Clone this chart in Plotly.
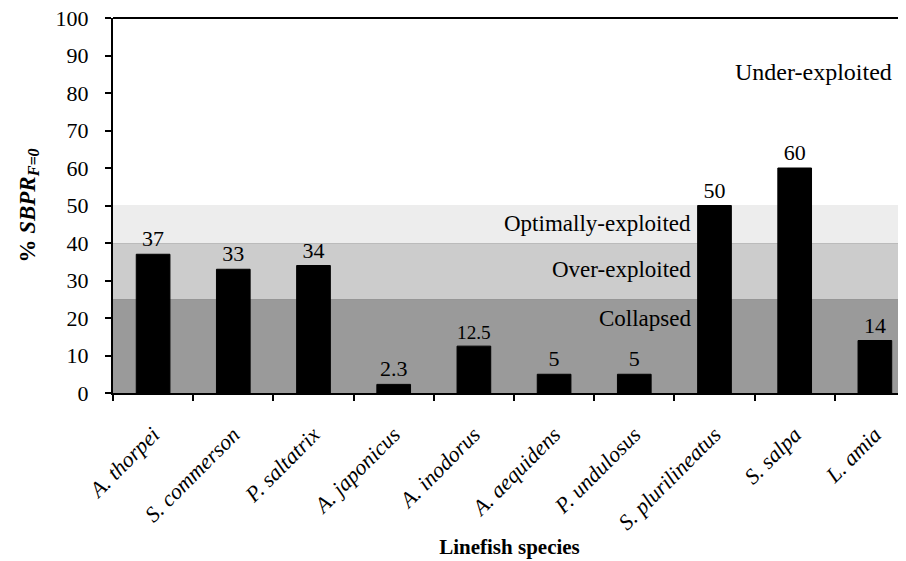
import plotly.graph_objects as go

species = ["A. thorpei", "S. commerson", "P. saltatrix", "A. japonicus", "A. inodorus",
           "A. aequidens", "P. undulosus", "S. plurilineatus", "S. salpa", "L. amia"]
sbpr = [37, 33, 34, 2.3, 12.5, 5, 5, 50, 60, 14]

band_edges = [0, 25, 40, 50]
band_colors = ["#9a9a9a", "#cccccc", "#ededed"]
band_lines = ["#777777", "#aaaaaa", "#ededed"]
band_labels = ["Collapsed", "Over-exploited", "Optimally-exploited"]
band_label_y = [20, 33, 45.3]
top_label = "Under-exploited"
top_label_y = 85.6

FONT = "Liberation Serif"

fig = go.Figure()
fig.add_trace(go.Bar(
    x=species, y=sbpr,
    marker=dict(color="black", line=dict(color="black", width=1)),
    width=0.42,
    text=[str(v) for v in sbpr],
    textposition="outside",
    textfont=dict(family=FONT, size=22, color="black"),
    cliponaxis=False,
))

shapes = []
for i, c in enumerate(band_colors):
    shapes.append(dict(type="rect", xref="paper", yref="y", x0=0, x1=1,
                       y0=band_edges[i], y1=band_edges[i + 1],
                       fillcolor=c, line=dict(width=0), layer="below"))
    shapes.append(dict(type="line", xref="paper", yref="y", x0=0, x1=1,
                       y0=band_edges[i + 1], y1=band_edges[i + 1],
                       line=dict(color=band_lines[i], width=1), layer="below"))
# top border line
shapes.append(dict(type="line", xref="paper", yref="paper", x0=0, x1=1, y0=1, y1=1,
                   line=dict(color="black", width=2), layer="above"))

annotations = []
for lab, yv in zip(band_labels, band_label_y):
    annotations.append(dict(text=lab, xref="paper", yref="y", x=0.7314, y=yv,
                            xanchor="right", yanchor="middle", showarrow=False,
                            font=dict(family=FONT, size=23, color="black")))
annotations.append(dict(text=top_label, xref="paper", yref="y", x=0.985, y=top_label_y,
                        xanchor="right", yanchor="middle", showarrow=False,
                        font=dict(family=FONT, size=24, color="black")))

# page body has an 8px default margin; compensate so the plot lands where the reference has it
fig.update_layout(
    width=898, height=553,
    margin=dict(l=105, r=0, t=10, b=168, autoexpand=False),
    plot_bgcolor="white", paper_bgcolor="white",
    showlegend=False,
    shapes=shapes,
    annotations=annotations,
    font=dict(family=FONT, size=21, color="black"),
)
fig.update_xaxes(
    range=[-0.5, 9.388],
    showline=True, linecolor="black", linewidth=2,
    ticks="outside", tickson="boundaries", ticklen=6, tickwidth=2, tickcolor="black",
    tickangle=-45, ticklabelstandoff=18, ticklabeloverflow="allow",
    tickfont=dict(family=FONT, size=22, color="black", style="italic"),
    showgrid=False, automargin=False,
    title=dict(text="<b>Linefish species</b>", font=dict(family=FONT, size=21, color="black"),
               standoff=6),
)
fig.update_yaxes(
    range=[0, 100], dtick=10,
    showline=True, linecolor="black", linewidth=2,
    ticks="outside", ticklen=6, tickwidth=2, tickcolor="black",
    ticklabelstandoff=12, ticklabeloverflow="allow",
    tickfont=dict(family=FONT, size=22, color="black"),
    showgrid=False, zeroline=False, automargin=True,
    title=dict(text="<b>% <i>SBPR</i><sub><i>F=0</i></sub></b>",
               font=dict(family=FONT, size=23, color="black"), standoff=14),
)

fig.write_html("out.html")
